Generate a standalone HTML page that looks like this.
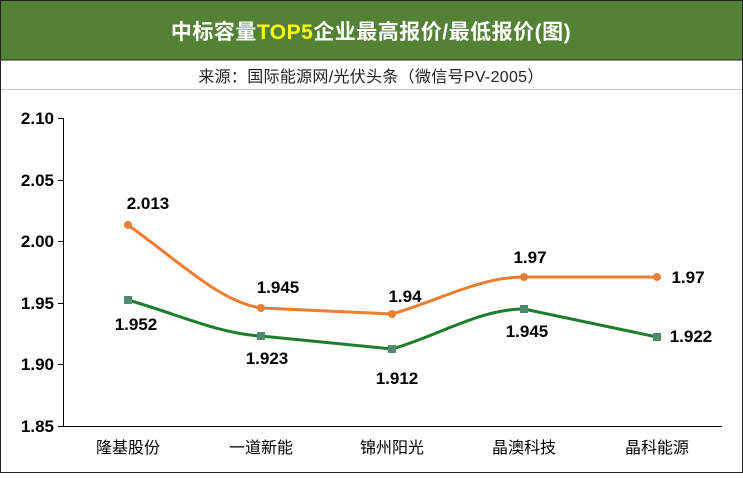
<!DOCTYPE html><html><head><meta charset="utf-8"><style>
body{margin:0;width:743px;height:474px;overflow:hidden;background:#fff;font-family:"Liberation Sans","Noto Sans CJK SC",sans-serif}
</style></head><body>
<svg width="743" height="474" xmlns="http://www.w3.org/2000/svg" font-family="Liberation Sans, Noto Sans CJK SC, sans-serif">
<rect x="0.5" y="0.5" width="742" height="472" fill="#fff" stroke="#222"/>
<rect x="1" y="1" width="741" height="59" fill="#548235"/>
<line x1="1" y1="60" x2="742" y2="60" stroke="#222"/>
<text x="371" y="39" text-anchor="middle" font-size="21" font-weight="bold" fill="#fff" letter-spacing="0.5">中标容量<tspan fill="#ffff00">TOP5</tspan>企业最高报价/最低报价(图)</text>
<text x="371" y="82" text-anchor="middle" font-size="16" fill="#222" letter-spacing="0.3">来源：国际能源网/光伏头条（微信号PV-2005）</text>
<line x1="1" y1="89.5" x2="742" y2="89.5" stroke="#ccc"/>
<line x1="63.5" y1="118" x2="63.5" y2="426" stroke="#000"/>
<line x1="63" y1="426.5" x2="722" y2="426.5" stroke="#000"/>
<g stroke="#000"><line x1="58" y1="118.5" x2="63" y2="118.5"/><line x1="58" y1="180.5" x2="63" y2="180.5"/><line x1="58" y1="241.5" x2="63" y2="241.5"/><line x1="58" y1="303.5" x2="63" y2="303.5"/><line x1="58" y1="364.5" x2="63" y2="364.5"/><line x1="58" y1="426.5" x2="63" y2="426.5"/></g>
<g font-size="17" font-weight="bold" text-anchor="end" fill="#000">
<text x="54" y="124">2.10</text><text x="54" y="186">2.05</text><text x="54" y="247">2.00</text><text x="54" y="309">1.95</text><text x="54" y="370">1.90</text><text x="54" y="432">1.85</text></g>
<g font-size="16" text-anchor="middle" fill="#000">
<text x="128" y="453">隆基股份</text><text x="261" y="453">一道新能</text><text x="392" y="453">锦州阳光</text><text x="524" y="453">晶澳科技</text><text x="657" y="453">晶科能源</text></g>
<path d="M128,225 C180,262 220,302 261,308 L392,314 C440,300 480,277 524,277 L657,277" fill="none" stroke="#ed7d31" stroke-width="3"/>
<g fill="#ed7d31"><circle cx="128" cy="225" r="4"/><circle cx="261" cy="308" r="4"/><circle cx="392" cy="314" r="4"/><circle cx="524" cy="277" r="4"/><circle cx="657" cy="277" r="4"/></g>
<path d="M128,300 C180,315 220,334 261,336 L392,349 C440,335 480,309 524,309 L657,337" fill="none" stroke="#1e7d2b" stroke-width="3"/>
<g fill="#4f8a6e"><rect x="124" y="296" width="8" height="8"/><rect x="257" y="332" width="8" height="8"/><rect x="388" y="345" width="8" height="8"/><rect x="520" y="305" width="8" height="8"/><rect x="653" y="333" width="8" height="8"/></g>
<g font-size="17" font-weight="bold" fill="#000" text-anchor="middle">
<text x="148" y="209">2.013</text><text x="278" y="293">1.945</text><text x="405" y="302">1.94</text><text x="530" y="263">1.97</text><text x="688" y="283">1.97</text>
<text x="136" y="330">1.952</text><text x="267" y="364">1.923</text><text x="397" y="384">1.912</text><text x="527" y="337">1.945</text><text x="691" y="342">1.922</text></g>
</svg></body></html>
